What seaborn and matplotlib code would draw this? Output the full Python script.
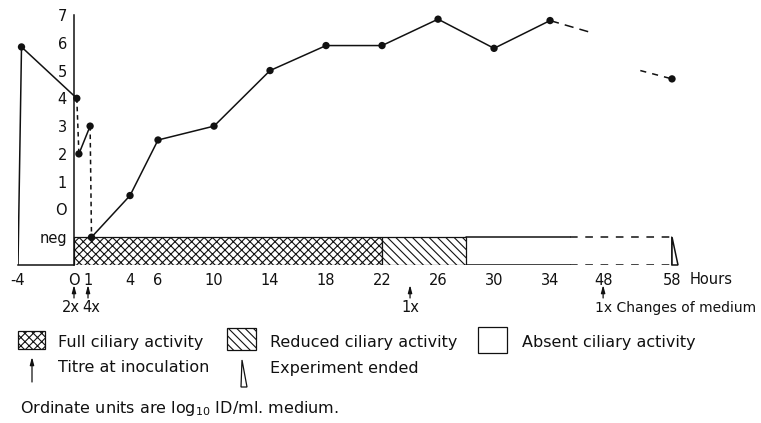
import numpy as np
import matplotlib
matplotlib.use("Agg")
import matplotlib.pyplot as plt
from matplotlib.patches import Rectangle, Polygon
from matplotlib.transforms import offset_copy
import seaborn as sns

# ---- data: titres in log10 ID/ml medium (-1 = "neg") ----
pre_hours = [-3.75, 0.2]
pre_titre = [5.85, 4.0]
drop_hours = [0.2, 0.35]
drop_titre = [4.0, 2.0]
early_hours = [0.35, 1.15]
early_titre = [2.0, 3.0]
fall_hours = [1.15, 1.25]
fall_titre = [3.0, -1.0]
main_hours = [1.25, 4, 6, 10, 14, 18, 22, 26, 30, 34]
main_titre = [-1.0, 0.5, 2.5, 3.0, 5.0, 5.9, 5.9, 6.85, 5.8, 6.8]
late_hours_a = [34, 45.3]
late_titre_a = [6.8, 6.35]
late_hours_b = [53.4, 58]
late_titre_b = [5.0, 4.7]
point_hours = [-3.75, 0.2, 0.35, 1.15, 1.25, 4, 6, 10, 14, 18, 22, 26, 30, 34, 58]
point_titre = [5.85, 4.0, 2.0, 3.0, -1.0, 0.5, 2.5, 3.0, 5.0, 5.9, 5.9, 6.85, 5.8, 6.8, 4.7]

# ciliary activity periods (hours)
full_period = (0, 22)
reduced_period = (22, 28)
absent_period = (28, 58)
solid_outline_end = 39.3

# medium changes
change_hours = [0, 1, 24, 48]
change_labels = ["2x", "4x", "1x", "1x Changes of medium"]

x_ticks = [-4, 0, 1, 4, 6, 10, 14, 18, 22, 26, 30, 34, 48, 58]
x_ticklabels = ["-4", "O", "1", "4", "6", "10", "14", "18", "22", "26", "30", "34", "48", "58"]
y_ticks = [-1, 0, 1, 2, 3, 4, 5, 6, 7]
y_ticklabels = ["neg", "O", "1", "2", "3", "4", "5", "6", "7"]

# compressed time axis after 34 h
knots_h = [-10, 34, 48, 58, 70]
knots_u = [-10, 34, 37.79, 42.71, 42.71 + 12 * 0.492]


def fwd(h):
    return np.interp(h, knots_h, knots_u)


def inv(u):
    return np.interp(u, knots_u, knots_h)


sns.set_style("white")
plt.rcParams["font.family"] = ["DejaVu Sans"]
plt.rcParams["hatch.linewidth"] = 0.8

W, H = 761, 423
fig = plt.figure(figsize=(W / 100, H / 100), dpi=100)
ax = fig.add_axes([18 / W, (H - 265) / H, (672 - 18) / W, (265 - 15) / H])
ax.set_xscale("function", functions=(fwd, inv))
ax.set_xlim(-4, 58)
ax.set_ylim(-2, 7)

k = "#111111"
lw = 1.1

# activity bars
ax.add_patch(Rectangle((full_period[0], -2), full_period[1] - full_period[0], 1,
                       facecolor="white", edgecolor=k, hatch="xxxx", lw=0.9, zorder=1))
ax.add_patch(Rectangle((reduced_period[0], -2), reduced_period[1] - reduced_period[0], 1,
                       facecolor="white", edgecolor=k, hatch="\\\\\\\\", lw=0.9, zorder=1))
for yy in (-1, -2):
    ax.plot([absent_period[0], solid_outline_end], [yy, yy], color=k, lw=lw, zorder=2)
    ax.plot([solid_outline_end, absent_period[1]], [yy, yy], color=k, lw=lw,
            linestyle=(0, (5, 5)), zorder=2)
ax.plot([absent_period[1], absent_period[1]], [-1, -2], color=k, lw=lw, zorder=2)
ax.add_patch(Polygon([(58, -1), (58, -2), (58.8, -2)], closed=True, facecolor="white",
                     edgecolor=k, lw=lw, zorder=3, clip_on=False))

# frame line at -4 h
ax.plot([-4, pre_hours[0]], [-2, pre_titre[0]], color=k, lw=lw)

# titre curve
sns.lineplot(x=pre_hours, y=pre_titre, ax=ax, color=k, lw=lw, sort=False, estimator=None)
sns.lineplot(x=drop_hours, y=drop_titre, ax=ax, color=k, lw=lw, sort=False,
             estimator=None, linestyle=(0, (3, 2.5)))
sns.lineplot(x=early_hours, y=early_titre, ax=ax, color=k, lw=lw, sort=False, estimator=None)
sns.lineplot(x=fall_hours, y=fall_titre, ax=ax, color=k, lw=lw, sort=False,
             estimator=None, linestyle=(0, (3, 2.5)))
sns.lineplot(x=main_hours, y=main_titre, ax=ax, color=k, lw=lw, sort=False, estimator=None)
sns.lineplot(x=late_hours_a, y=late_titre_a, ax=ax, color=k, lw=lw, sort=False,
             estimator=None, linestyle=(0, (6, 4)))
sns.lineplot(x=late_hours_b, y=late_titre_b, ax=ax, color=k, lw=lw, sort=False,
             estimator=None, linestyle=(0, (4, 4)))
sns.scatterplot(x=point_hours, y=point_titre, ax=ax, color=k, s=28, edgecolor="none",
                zorder=5, clip_on=False)

# axes styling
for side in ("top", "right"):
    ax.spines[side].set_visible(False)
ax.spines["left"].set_position(("data", 0))
ax.spines["left"].set_bounds(-2, 7)
ax.spines["bottom"].set_bounds(-4, 0)
for side in ("left", "bottom"):
    ax.spines[side].set_color(k)
    ax.spines[side].set_linewidth(lw)
ax.set_xticks(x_ticks)
ax.set_xticklabels(x_ticklabels)
ax.set_yticks(y_ticks)
ax.set_yticklabels(y_ticklabels)
ax.xaxis.set_minor_locator(matplotlib.ticker.NullLocator())
ax.tick_params(axis="both", colors=k, labelcolor=k, labelsize=10.5, width=0.9)
ax.tick_params(axis="x", direction="out", length=3, pad=3)
ax.tick_params(axis="y", direction="out", length=4, pad=1)
ax.set_xlabel("")
ax.set_ylabel("")

tr_lab = offset_copy(ax.transData, fig=fig, x=18, y=-15, units="dots")
ax.text(58, -2, "Hours", transform=tr_lab, ha="left", va="center", fontsize=10.5, color=k)

# medium-change arrows
tip = offset_copy(ax.transData, fig=fig, y=-20, units="dots")
tail = offset_copy(ax.transData, fig=fig, y=-33, units="dots")
for h in change_hours:
    ax.annotate("", xy=(h, -2), xycoords=tip, xytext=(h, -2), textcoords=tail,
                arrowprops=dict(arrowstyle="-|>,head_length=0.45,head_width=0.12",
                                color=k, lw=0.9, shrinkA=0, shrinkB=0))
lab_offsets = [-3, 3, 0, -8]
lab_align = ["center", "center", "center", "left"]
lab_sizes = [10.5, 10.5, 10.5, 10.0]
for h, lab, dx, ha, fsz in zip(change_hours, change_labels, lab_offsets, lab_align, lab_sizes):
    tr = offset_copy(ax.transData, fig=fig, x=dx, y=-43, units="dots")
    ax.text(h, -2, lab, transform=tr, ha=ha, va="center", fontsize=fsz, color=k)

# key below the chart, in figure pixels
kx = fig.add_axes([0, 0, 1, 1], zorder=-1)
kx.set_xlim(0, W)
kx.set_ylim(H, 0)
kx.axis("off")
kx.add_patch(Rectangle((18, 331), 27, 18, facecolor="white", edgecolor=k,
                       hatch="xxxx", lw=0.9))
kx.add_patch(Rectangle((227, 328), 29, 22, facecolor="white", edgecolor=k,
                       hatch="\\\\\\\\", lw=0.9))
kx.add_patch(Rectangle((478, 327), 29, 26, facecolor="white", edgecolor=k, lw=0.9))
fs = 11.5
kx.text(58, 342, "Full ciliary activity", ha="left", va="center", fontsize=fs, color=k)
kx.text(270, 342, "Reduced ciliary activity", ha="left", va="center", fontsize=fs, color=k)
kx.text(522, 342, "Absent ciliary activity", ha="left", va="center", fontsize=fs, color=k)
kx.annotate("", xy=(32, 357), xytext=(32, 382),
            arrowprops=dict(arrowstyle="-|>,head_length=0.45,head_width=0.12",
                            color=k, lw=0.9, shrinkA=0, shrinkB=0))
kx.text(58, 368, "Titre at inoculation", ha="left", va="center", fontsize=fs, color=k)
kx.add_patch(Polygon([(242, 360), (241, 387), (247, 387)], closed=True,
                     facecolor="white", edgecolor=k, lw=0.9))
kx.text(270, 368, "Experiment ended", ha="left", va="center", fontsize=fs, color=k)
kx.text(20, 408, "Ordinate units are log$_{10}$ ID/ml. medium.", ha="left",
        va="center", fontsize=fs, color=k)

fig.savefig("out.png", dpi=100)
